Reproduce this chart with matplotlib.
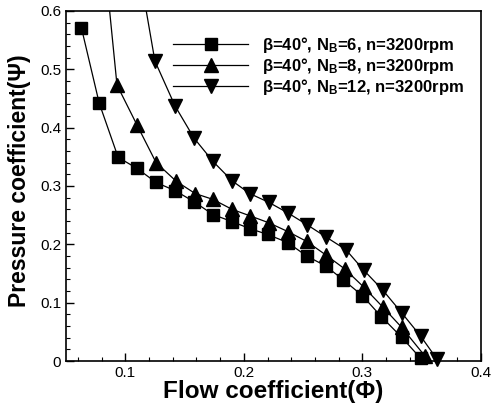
import matplotlib
matplotlib.use("Agg")
import matplotlib.pyplot as plt
from matplotlib.lines import Line2D
from matplotlib.ticker import MultipleLocator, FuncFormatter

plt.rcParams['font.family'] = ['Liberation Sans', 'DejaVu Sans']
plt.rcParams['mathtext.fontset'] = 'custom'
plt.rcParams['mathtext.rm'] = 'Liberation Sans:bold'
plt.rcParams['mathtext.bf'] = 'Liberation Sans:bold'
plt.rcParams['mathtext.it'] = 'Liberation Sans:bold'

# flow coefficient / pressure coefficient
# (first point of NB=8 and NB=12 lies above the plotted range)
phi_nb6 = [0.063, 0.078, 0.094, 0.110, 0.126, 0.142, 0.158, 0.174, 0.190, 0.205,
           0.220, 0.237, 0.253, 0.269, 0.284, 0.300, 0.316, 0.333, 0.349]
psi_nb6 = [0.571, 0.442, 0.349, 0.330, 0.306, 0.292, 0.273, 0.251, 0.239, 0.227,
           0.217, 0.203, 0.180, 0.163, 0.139, 0.112, 0.076, 0.041, 0.005]

phi_nb8 = [0.078, 0.093, 0.110, 0.126, 0.143, 0.159, 0.174, 0.190, 0.205, 0.221,
           0.237, 0.253, 0.269, 0.285, 0.301, 0.317, 0.333, 0.353]
psi_nb8 = [0.780, 0.473, 0.404, 0.340, 0.308, 0.287, 0.277, 0.260, 0.249, 0.237,
           0.222, 0.205, 0.182, 0.158, 0.127, 0.093, 0.058, 0.008]

phi_nb12 = [0.110, 0.125, 0.142, 0.158, 0.174, 0.190, 0.205, 0.221, 0.237, 0.253,
            0.269, 0.286, 0.301, 0.317, 0.333, 0.349, 0.363]
psi_nb12 = [0.690, 0.514, 0.437, 0.382, 0.342, 0.309, 0.287, 0.272, 0.254, 0.234,
            0.213, 0.191, 0.156, 0.122, 0.083, 0.043, 0.003]

labels = [r"β=40°, N$_B$=6, n=3200rpm",
          r"β=40°, N$_B$=8, n=3200rpm",
          r"β=40°, N$_B$=12, n=3200rpm"]

fig = plt.figure(figsize=(5.0, 4.03), dpi=100)
ax = fig.add_axes([0.132, 0.104, 0.830, 0.869])

series = [(phi_nb6, psi_nb6, 's', 8.5), (phi_nb8, psi_nb8, '^', 9.5), (phi_nb12, psi_nb12, 'v', 9.5)]
handles = []
for (x, y, m, ms), lab in zip(series, labels):
    ax.plot(x, y, color='black', lw=0.9)
    vis = [(a, b) for a, b in zip(x, y) if b <= 0.6]
    ax.plot([a for a, b in vis], [b for a, b in vis], ls='none', marker=m,
            ms=ms, color='black', clip_on=False, zorder=3)
    handles.append(Line2D([], [], color='black', lw=0.9, marker=m, ms=ms, label=lab))

ax.set_xlim(0.05, 0.4)
ax.set_ylim(0, 0.6)
ax.xaxis.set_major_locator(MultipleLocator(0.1))
ax.xaxis.set_minor_locator(MultipleLocator(0.02))
ax.yaxis.set_major_locator(MultipleLocator(0.1))
ax.yaxis.set_minor_locator(MultipleLocator(0.02))
fmt = FuncFormatter(lambda v, p: f"{v:g}")
ax.xaxis.set_major_formatter(fmt)
ax.yaxis.set_major_formatter(fmt)
ax.tick_params(which='both', direction='in', top=False, right=False, labelsize=11)
ax.tick_params(which='major', length=6, width=1)
ax.tick_params(which='minor', length=3, width=0.8)
for s in ax.spines.values():
    s.set_linewidth(1.2)

ax.set_xlabel("Flow coefficient(Φ)", fontsize=17.5, fontweight='bold', labelpad=0)
ax.set_ylabel("Pressure coefficient(Ψ)", fontsize=16.5, fontweight='bold')
ax.yaxis.set_label_coords(-0.085, 0.515)

leg = ax.legend(handles=handles, loc='upper left', bbox_to_anchor=(0.222, 0.975),
                frameon=False, handlelength=4.5, handletextpad=0.85, labelspacing=0.08,
                prop={'weight': 'bold', 'size': 12})

fig.savefig("out.png", dpi=100)
